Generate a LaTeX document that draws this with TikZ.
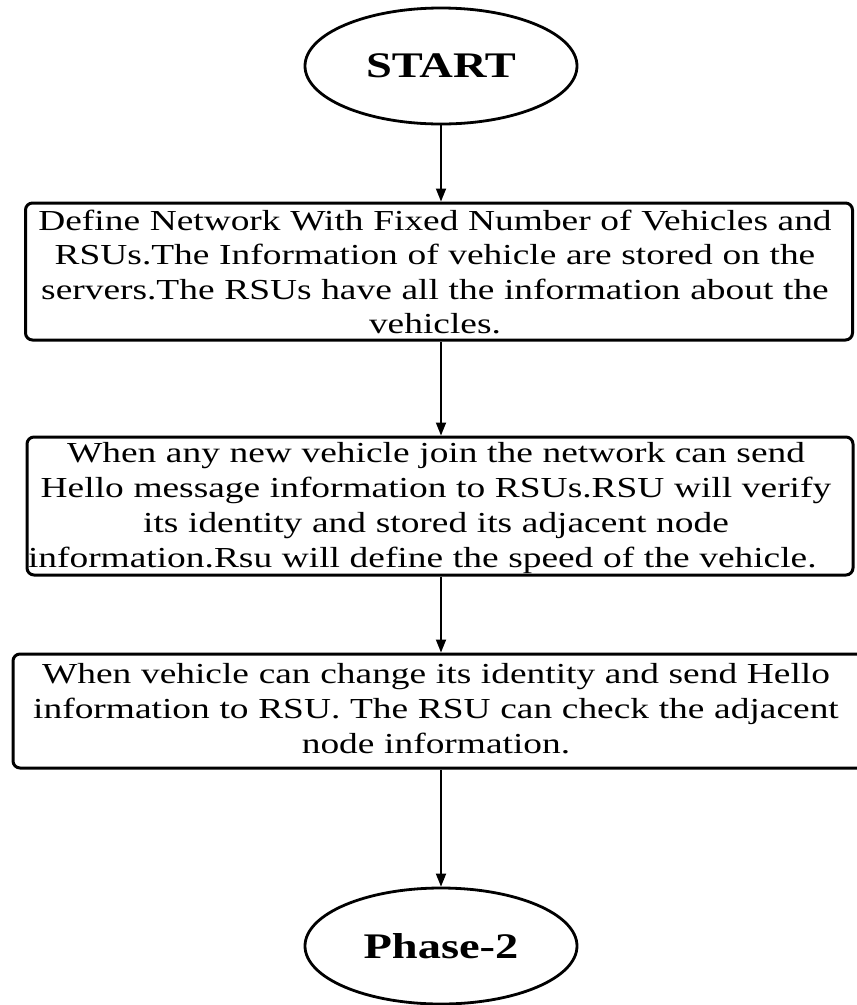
\documentclass[tikz,border=0pt]{standalone}
\usepackage{fontspec}
\setmainfont{Liberation Serif}[FakeStretch=1.29]
\usetikzlibrary{shapes.geometric,arrows.meta}
\begin{document}
\begin{tikzpicture}[x=1pt,y=-1pt,
  terminal/.style={ellipse, draw, line width=2.8pt, inner sep=0pt,
    minimum width=272pt, minimum height=116pt,
    font=\fontsize{36}{40}\selectfont\bfseries},
  stepbox/.style={draw, line width=3pt, rounded corners=7pt, inner sep=0pt},
  body/.style={text width=816pt, align=center, inner sep=0pt, anchor=base,
    font=\fontsize{29}{34.5}\selectfont},
  flow/.style={line width=1.8pt, -{Triangle[length=13pt,width=10pt]}}]

% canvas
\fill[white] (0,0) rectangle (857,1005);
\useasboundingbox (0,0) rectangle (857,1005);

% terminals
\node[terminal] (start) at (441,66) {START};
\node[terminal] (end) at (441,946) {Phase-2};

% process boxes
\node[stepbox, minimum width=827pt, minimum height=137pt] (b1) at (439,271.5) {};
\node[stepbox, minimum width=826pt, minimum height=138pt] (b2) at (440,506) {};
\node[stepbox, minimum width=858pt, minimum height=114pt] (b3) at (442,711) {};

% box texts (anchored at the first baseline)
\node[body] (t1) at (435,230) {Define Network With Fixed Number of Vehicles and\\
  RSUs.The Information of vehicle are stored on the\\
  servers.The RSUs have all the information about the\\
  vehicles.};
\node[body, font=\fontsize{29}{35}\selectfont] (t2) at (436,462) {When any new vehicle join the network can send\\
  Hello message information to RSUs.RSU will verify\\
  its identity and stored its adjacent node\\
  \makebox[\linewidth][l]{information.Rsu will define the speed of the vehicle.}};
\node[body, font=\fontsize{29}{35}\selectfont] (t3) at (436,683) {When vehicle can change its identity and send Hello\\
  information to RSU. The RSU can check the adjacent\\
  node information.};

% connectors
\draw[flow] (start) -- (start |- b1.north);
\draw[flow] (b1.south -| start) -- (start |- b2.north);
\draw[flow] (b2.south -| start) -- (start |- b3.north);
\draw[flow] (b3.south -| start) -- (end);
\end{tikzpicture}
\end{document}
